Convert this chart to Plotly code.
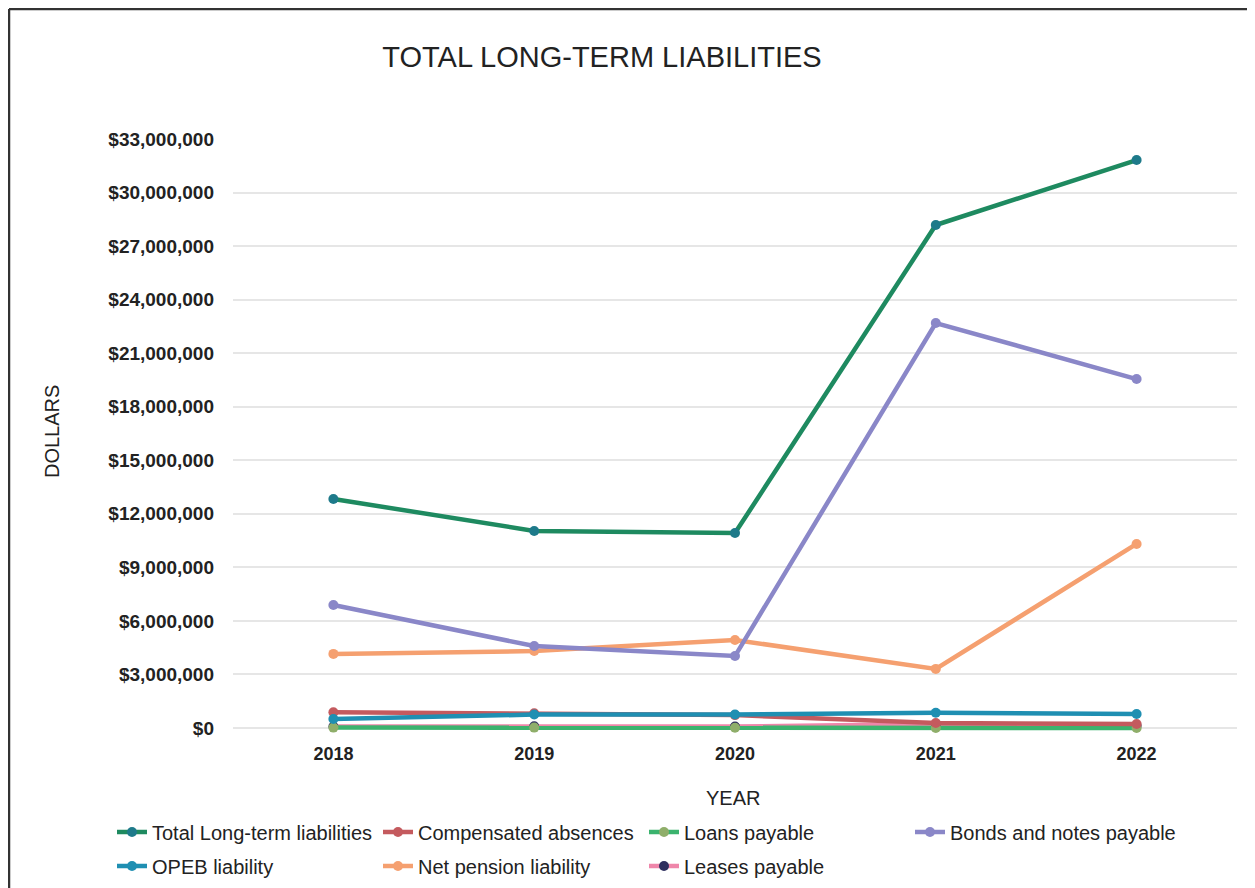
import plotly.graph_objects as go

years = [2018, 2019, 2020, 2021, 2022]
total_lt = [12830000, 11040000, 10920000, 28180000, 31820000]
comp_abs = [880000, 820000, 720000, 280000, 220000]
loans = [20000, 20000, 10000, 0, 0]
bonds = [6890000, 4590000, 4030000, 22690000, 19550000]
opeb = [500000, 750000, 750000, 850000, 780000]
pension = [4150000, 4310000, 4930000, 3310000, 10310000]
leases = [80000, 100000, 80000, 220000, 120000]
y_ticks = list(range(0, 33000001, 3000000))
y_tick_text = ["${:,}".format(v) for v in y_ticks]

series = [
    ("Total Long-term liabilities", total_lt, "#1e8a60", "#1e7a8a", "legend"),
    ("Compensated absences", comp_abs, "#c45a5e", "#c45a5e", "legend"),
    ("Loans payable", loans, "#3bb36e", "#8fae6a", "legend"),
    ("Bonds and notes payable", bonds, "#8a87c8", "#8a87c8", "legend"),
    ("OPEB liability", opeb, "#1f8fb2", "#1f8fb2", "legend2"),
    ("Net pension liability", pension, "#f5a070", "#f5a070", "legend2"),
    ("Leases payable", leases, "#ef86aa", "#2e2f5e", "legend2"),
]

FONT = "Liberation Sans, Arial, sans-serif"

fig = go.Figure()
draw_order = [6, 2, 1, 4, 5, 3, 0]
traces = {}
for i in range(len(series)):
    name, vals, lc, mc, lg = series[i]
    traces[i] = go.Scatter(
        x=years, y=vals, name=name, mode="lines+markers",
        line=dict(color=lc, width=4.5),
        marker=dict(color=mc, size=10),
        legend=lg, legendrank=i + 1, cliponaxis=False,
    )
for i in draw_order:
    fig.add_trace(traces[i])

OFF = 8  # page body margin
W, H = 1247, 880
L, R, T, B = 225, 18, 131, 157
pw = W - L - R
ph = H - T - B

def px2x(p):  # page pixel -> paper x
    return (p - OFF - L) / pw

def py2y(p):  # page pixel -> paper y
    return (H - B - (p - OFF)) / ph

fig.update_layout(
    width=W, height=H,
    margin=dict(l=L, r=R, t=T, b=B, autoexpand=False),
    paper_bgcolor="white", plot_bgcolor="white",
    font=dict(family=FONT, color="#222222"),
    title=dict(text="TOTAL LONG-TERM LIABILITIES", x=(602 - OFF) / W, xanchor="center",
               y=1 - (57 - OFF) / H, yanchor="middle", font=dict(size=29, color="#222222")),
    xaxis=dict(range=[2017.5, 2022.5], tickvals=years, ticktext=[str(y) for y in years],
               showgrid=False, zeroline=False, showline=False, ticks="",
               tickfont=dict(size=18, weight="bold", color="#222222"), ticklabelstandoff=10),
    yaxis=dict(range=[-170000, 33000000], tickvals=y_ticks, ticktext=y_tick_text,
               showgrid=True, gridcolor="#e6e6e6", gridwidth=1.5,
               zeroline=False, showline=False, ticks="",
               tickfont=dict(size=19, weight="bold", color="#222222"), ticklabelstandoff=18),
    legend=dict(orientation="h", x=px2x(112), xanchor="left", y=py2y(832), yanchor="middle",
                entrywidth=221, font=dict(size=20, color="#222222"), bgcolor="rgba(0,0,0,0)",
                traceorder="normal"),
    legend2=dict(orientation="h", x=px2x(112), xanchor="left", y=py2y(866), yanchor="middle",
                 entrywidth=221, font=dict(size=20, color="#222222"), bgcolor="rgba(0,0,0,0)",
                 traceorder="normal"),
    showlegend=True,
    annotations=[
        dict(text="DOLLARS", x=px2x(52), y=py2y(432), xref="paper", yref="paper",
             textangle=-90, showarrow=False, font=dict(size=20, color="#222222"),
             xanchor="center", yanchor="middle"),
        dict(text="YEAR", x=px2x(733), y=py2y(798), xref="paper", yref="paper",
             showarrow=False, font=dict(size=20, color="#222222"),
             xanchor="center", yanchor="middle"),
    ],
    shapes=[
        dict(type="line", xref="paper", yref="paper", x0=px2x(9), x1=px2x(9),
             y0=py2y(9), y1=py2y(900), line=dict(color="#333333", width=2.5)),
        dict(type="line", xref="paper", yref="paper", x0=px2x(9), x1=px2x(1260),
             y0=py2y(9), y1=py2y(9), line=dict(color="#333333", width=2.5)),
        dict(type="line", xref="paper", yref="paper", x0=px2x(1252), x1=px2x(1252),
             y0=py2y(9), y1=py2y(900), line=dict(color="#dddddd", width=1)),
    ],
)

fig.write_html("out.html")
